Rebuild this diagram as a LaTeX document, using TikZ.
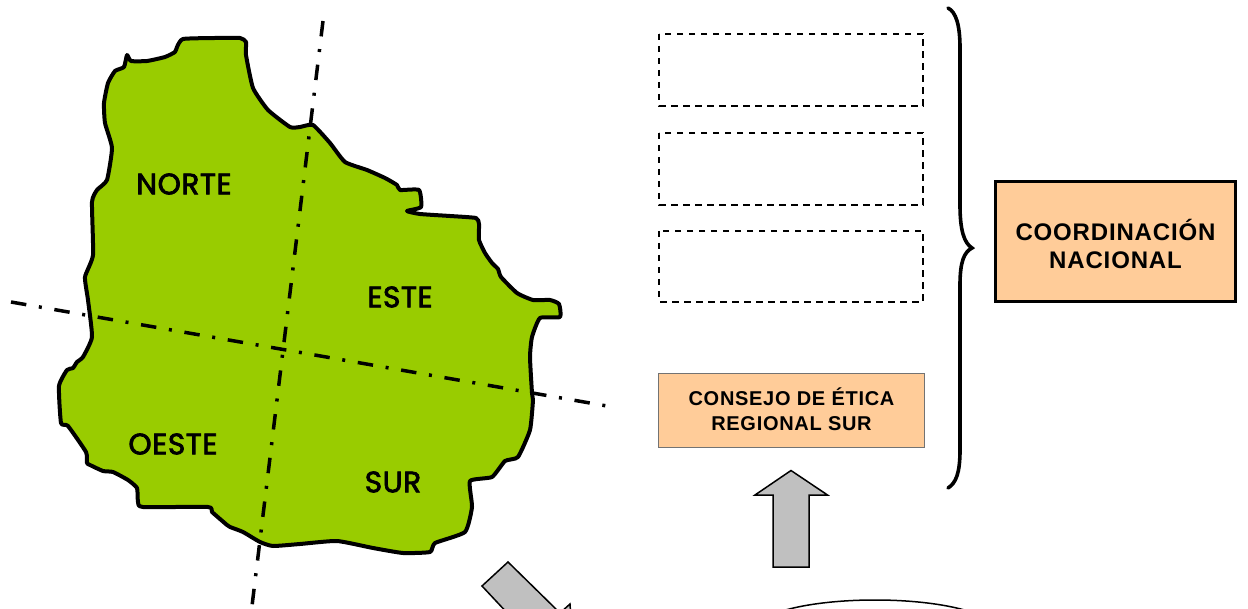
\documentclass[tikz,border=0pt]{standalone}
\usepackage{fontspec}
\setmainfont{Liberation Sans}
\newfontfamily\comicfont[FakeBold=2.5,LetterSpace=2]{Poppins}
\newfontfamily\boxfont[LetterSpace=3.5]{Liberation Sans Bold}
\definecolor{mapgreen}{HTML}{99CC00}
\definecolor{peach}{HTML}{FFCC99}
\definecolor{arrowgray}{HTML}{C0C0C0}
\tikzset{
  region/.style={font=\comicfont\fontsize{29.5}{30}\selectfont,inner sep=0pt},
  emptybox/.style={draw=black,line width=1.3pt,dash pattern=on 6.5pt off 5.5pt,fill=white},
  axisline/.style={line width=3.5pt,dash pattern=on 15.5pt off 12.75pt on 3pt off 12.75pt},
  graphicarrow/.style={draw=black,fill=arrowgray,line width=1.5pt,line join=miter}
}
\begin{document}
\begin{tikzpicture}[x=1pt,y=-1pt]
\useasboundingbox (0,0) rectangle (1248,609);
\begin{scope}
\clip (0,0) rectangle (1248,609);
% map
\draw[fill=mapgreen,line width=4pt,line join=round] plot[smooth cycle,tension=0.3] coordinates {
(183,39) (215,38) (240,38) (246,42) (246,55) (253,88) (268,110) (290,127) (300,127) (313,125)
(330,143) (345,162) (367,170) (385,178) (397,185) (400,190) (419,190) (421,207) (407,211) (420,214) (450,216) (476,218) (479,224)
(479,240) (485,253) (492,263) (498,269) (501,277) (517,293) (533,300) (550,300) (559,304) (560,317) (540,318)
(532,337) (530,357) (532,393) (533,400) (530,430) (518,457) (505,461) (492,477) (470,481)
(472,507) (465,532) (435,543) (430,552) (403,553) (373,548) (337,541) (300,544) (273,546)
(260,542) (243,532) (230,527) (227,525) (212,512) (208,507) (143,507) (138,502) (137,488) (128,480) (113,472) (103,471) (90,465) (87,463) (86,452)
(68,426) (61,423) (59,386) (67,370) (73,368) (77,362) (83,357) (92,337) (88,300)
(85,277) (93,255) (92,202) (97,190) (107,180) (112,148) (105,123) (104,103) (108,83) (115,71)
(124,67) (127,55) (131,61) (147,61) (165,57) (175,52) (177,47)};
% axes
\coordinate (hA) at (11,302);
\coordinate (hB) at (607,406);
\coordinate (vA) at (323,21);
\coordinate (vB) at (252,606);
\draw[axisline] (hA) -- (hB);
\draw[axisline] (vA) -- (vB);
% region labels
\node[region] (norte) at (184,184) {NORTE};
\node[region] (este) at (400,297) {ESTE};
\node[region] (oeste) at (173,444) {OESTE};
\node[region] (sur) at (393,482) {SUR};
% dashed boxes
\draw[emptybox] (659,34) rectangle (923,106);
\draw[emptybox] (659,133) rectangle (923,205);
\draw[emptybox] (659,231) rectangle (923,302);
% consejo box
\node[draw=black!55,line width=0.8pt,fill=peach,minimum width=266pt,minimum height=74pt,inner sep=0pt,anchor=center,align=center,font=\boxfont\fontsize{20}{25}\selectfont] (consejo) at (791.5,410) {\raisebox{1pt}{CONSEJO DE ÉTICA}\\\raisebox{1pt}{REGIONAL SUR}};
% coordinacion box
\node[draw=black,line width=3pt,fill=peach,minimum width=240pt,minimum height=120pt,inner sep=0pt,anchor=center,align=center,font=\boxfont\fontsize{24}{28.5}\selectfont] (coord) at (1115.5,242) {\raisebox{-6pt}[18pt][5pt]{COORDINACIÓN}\\\raisebox{-6pt}[18pt][5pt]{NACIONAL}};
% brace
\draw[line width=3.6pt,line cap=round,line join=miter] (948,8)
  .. controls (956,12) and (960,25) .. (960,48)
  -- (960,205)
  .. controls (960,230) and (964,243) .. (972,248)
  .. controls (964,252) and (960,262) .. (960,285)
  -- (960,450)
  .. controls (960,473) and (956,483) .. (948,488);
% up arrow
\draw[graphicarrow] (791,470.5) -- (827.5,495) -- (809,495) -- (809,567) -- (773,567) -- (773,495) -- (755,495) -- cycle;
% diagonal arrow
\draw[graphicarrow] (508,562) -- (482,586) -- (540,648) -- (530,660) -- (575,680) -- (570,604) -- (560,613) -- cycle;
% ellipse
\draw[line width=1.5pt] (875,630) ellipse [x radius=120,y radius=30];
\end{scope}
\end{tikzpicture}
\end{document}
